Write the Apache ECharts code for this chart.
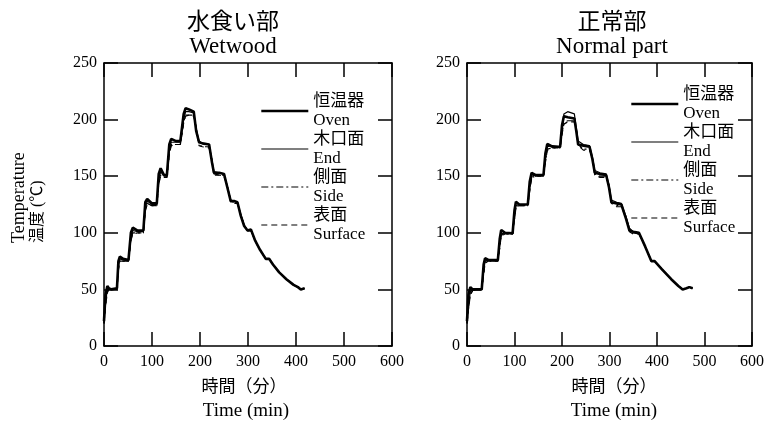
<!DOCTYPE html>
<html>
<head>
<meta charset="utf-8">
<script src="https://cdn.jsdelivr.net/npm/echarts@6/dist/echarts.min.js"></script>
<style>
  html, body { margin: 0; padding: 0; background: #fff; }
  #main { width: 773px; height: 425px; }
</style>
</head>
<body>
<div id="main"></div>
<script>
// 水食い部 (Wetwood)
var wetTime = [0, 3, 7, 10, 15, 27, 30, 33, 40, 51, 56, 60, 70, 82, 86, 90, 100, 110, 114, 118, 125, 131, 136, 140, 150, 159, 166, 170, 177, 187, 192, 198, 205, 219, 225, 229, 240, 250, 257, 264, 271, 278, 285, 292, 299, 306, 315, 325, 337, 344, 352, 365, 380, 395, 404, 410, 414, 418];
var wetOven = [22, 45, 53, 51, 50, 51, 75, 79, 77, 76, 100, 104.5, 102, 102, 127, 130, 126, 126, 152, 157, 151, 151, 178, 183, 181, 181, 205, 210, 209, 207, 190, 180, 179, 178, 162, 153, 153, 152, 140, 128, 128, 127, 115, 106, 102, 103, 93, 85, 77, 77, 72, 65, 59, 54, 52, 50, 50, 51];
var wetEnd = [20, 38, 50, 51, 50, 50, 70, 77, 76, 75, 96, 102, 101, 101, 122, 128, 125, 125, 146, 154, 150, 150, 172, 180, 180, 180, 200, 207, 207, 206, 192, 181, 179, 178, 164, 154, 153, 152, 141, 129, 128, 127, 116, 107, 102, 102, 93, 85, 77, 77, 72, 65, 59, 54, 52, 50, 50, 51];
var wetSide = [20, 36, 48, 50, 50, 50, 68, 76, 75, 75, 94, 100, 100, 100, 120, 126, 124, 124, 144, 151, 149, 149, 170, 178, 178, 178, 198, 204, 204, 204, 193, 178, 176, 176, 164, 152, 151, 151, 141, 128, 127, 126, 116, 107, 102, 102, 93, 85, 77, 77, 72, 65, 59, 54, 52, 50, 50, 51];
var wetSurface = [20, 35, 47, 50, 50, 50, 67, 75, 75, 75, 93, 99, 100, 100, 119, 125, 124, 124, 143, 150, 149, 149, 169, 177, 178, 178, 197, 203, 204, 203, 193, 177, 176, 175, 164, 151, 151, 150, 141, 127, 126, 126, 116, 106, 102, 102, 93, 85, 77, 77, 72, 65, 59, 54, 52, 50, 50, 51];

// 正常部 (Normal part)
var normTime = [0, 3, 7, 12, 20, 31, 35, 38, 45, 65, 69, 72, 80, 96, 100, 103, 110, 128, 132, 136, 145, 161, 165, 169, 180, 196, 200, 204, 212, 226, 230, 234, 245, 258, 264, 269, 280, 293, 299, 304, 315, 325, 335, 342, 350, 362, 375, 388, 395, 410, 430, 445, 454, 462, 468, 475];
var normOven = [22, 45, 52, 50, 50, 50, 72, 77.5, 76, 76, 95, 102.5, 100, 99.5, 120, 127.5, 125, 125, 145, 153, 151, 151, 170, 178.5, 176, 176, 195, 203, 202, 201, 190, 178, 177, 176, 165, 153, 152, 151, 140, 127, 126, 125, 112, 102, 101, 100, 88, 75, 75, 68, 59, 53, 50, 51, 52, 51];
var normEnd = [20, 35, 48, 50, 50, 50, 66, 75, 76, 75, 90, 99, 100, 99, 115, 124, 125, 125, 140, 150, 151, 151, 165, 176, 177, 176, 190, 205, 207, 205, 193, 181, 178, 177, 167, 155, 153, 152, 142, 129, 127, 126, 114, 104, 101, 100, 88, 75, 75, 68, 59, 53, 50, 51, 52, 51];
var normSide = [20, 33, 46, 49, 50, 50, 64, 74, 75, 75, 88, 98, 99, 99, 113, 123, 124, 124, 138, 149, 150, 150, 163, 174, 175, 175, 188, 197, 199, 199, 192, 178, 174, 174, 166, 152, 150, 150, 142, 127, 124, 124, 114, 102, 100, 99, 88, 75, 75, 68, 59, 53, 50, 51, 52, 51];
var normSurface = [20, 32, 45, 49, 50, 50, 63, 73, 75, 75, 87, 97, 99, 99, 112, 122, 124, 124, 137, 148, 150, 150, 162, 173, 175, 175, 187, 196, 198, 198, 192, 177, 173, 173, 166, 151, 149, 149, 141, 126, 123, 123, 113, 101, 99, 99, 88, 75, 75, 68, 59, 53, 50, 51, 52, 51];

var seriesNames = ['Oven', 'End', 'Side', 'Surface'];
var legendJa = { Oven: '恒温器', End: '木口面', Side: '側面', Surface: '表面' };

var fontSerif = '"Liberation Serif", "Noto Sans CJK JP", serif';

//系列の線種
var lineStyles = {
    Oven: { width: 2.6, type: 'solid' },
    End: { width: 1.2, type: 'solid' },
    Side: { width: 1.2, type: [7, 3, 2, 3] },
    Surface: { width: 1.2, type: [6, 4] }
};

function pairs(t, v) {
    var out = [];
    for (var i = 0; i < t.length; i++) out.push([t[i], v[i]]);
    return out;
}

var grids = [
    { left: 104, top: 63, width: 288, height: 283 },
    { left: 467, top: 63, width: 285, height: 283 }
];

var xAxes = [], yAxes = [];
grids.forEach(function(g, i) {
    var tickStyle = { show: true, inside: true, length: 14, lineStyle: { color: '#000', width: 1.5 } };
    var lineStyle = { show: true, onZero: false, lineStyle: { color: '#000', width: 1.5 } };
    xAxes.push({
        type: 'value', gridIndex: i, min: 0, max: 600, interval: 100, position: 'bottom',
        axisLine: lineStyle, axisTick: tickStyle, splitLine: { show: false },
        axisLabel: { color: '#000', fontSize: 16, fontFamily: fontSerif, margin: 8 }
    });
    xAxes.push({
        type: 'value', gridIndex: i, min: 0, max: 600, interval: 100, position: 'top',
        axisLine: lineStyle, axisTick: tickStyle, splitLine: { show: false },
        axisLabel: { show: false }
    });
    yAxes.push({
        type: 'value', gridIndex: i, min: 0, max: 250, interval: 50, position: 'left',
        axisLine: lineStyle, axisTick: tickStyle, splitLine: { show: false },
        axisLabel: { color: '#000', fontSize: 16, fontFamily: fontSerif, margin: 7 }
    });
    yAxes.push({
        type: 'value', gridIndex: i, min: 0, max: 250, interval: 50, position: 'right',
        axisLine: lineStyle, axisTick: tickStyle, splitLine: { show: false },
        axisLabel: { show: false }
    });
});

var panels = [
    { time: wetTime, data: { Oven: wetOven, End: wetEnd, Side: wetSide, Surface: wetSurface } },
    { time: normTime, data: { Oven: normOven, End: normEnd, Side: normSide, Surface: normSurface } }
];

var series = [];
panels.forEach(function(p, i) {
    seriesNames.forEach(function(name) {
        series.push({
            name: name, type: 'line', xAxisIndex: i * 2, yAxisIndex: i * 2,
            data: pairs(p.time, p.data[name]), symbol: 'none', smooth: false,
            lineStyle: { color: '#000', width: lineStyles[name].width, type: lineStyles[name].type },
            itemStyle: { color: '#000' }, z: name == 'Oven' ? 3 : 2
        });
    });
});

//凡例（線のみ、記号は透明）
function legendAt(left, top) {
    return {
        orient: 'vertical', left: left, top: top, itemWidth: 47, itemHeight: 14, itemGap: 0,
        padding: 0, selectedMode: false,
        itemStyle: { opacity: 0 },
        data: seriesNames.map(function(name) {
            return {
                name: name,
                itemStyle: { opacity: 0 },
                lineStyle: { color: '#000', width: lineStyles[name].width, type: lineStyles[name].type, opacity: 1 }
            };
        }),
        formatter: function(name) { return legendJa[name] + '\n' + name; },
        textStyle: { color: '#000', fontSize: 17, lineHeight: 19, fontFamily: fontSerif, padding: 0 }
    };
}

function txt(x, y, s, size, rot) {
    return {
        type: 'text', x: x, y: y, rotation: rot || 0,
        style: { text: s, fill: '#000', font: size + 'px ' + fontSerif, align: rot ? 'left' : 'center', verticalAlign: 'middle' }
    };
}

var option = {
    backgroundColor: '#fff',
    animation: false,
    grid: grids,
    xAxis: xAxes,
    yAxis: yAxes,
    legend: [legendAt(260, 92), legendAt(630, 85)],
    series: series,
    graphic: [
        txt(233, 23, '水食い部', 23),
        txt(233, 47, 'Wetwood', 23),
        txt(612, 23, '正常部', 23),
        txt(612, 47, 'Normal part', 23),
        txt(244, 388, '時間（分）', 17),
        txt(246, 411, 'Time (min)', 19),
        txt(614, 388, '時間（分）', 17),
        txt(614, 411, 'Time (min)', 19),
        txt(19, 243, 'Temperature', 18, Math.PI / 2),
        txt(38, 243, '温度 (℃)', 16, Math.PI / 2)
    ]
};

var myChart = echarts.init(document.getElementById('main'), null, { renderer: 'canvas' });
myChart.setOption(option);
</script>
</body>
</html>
